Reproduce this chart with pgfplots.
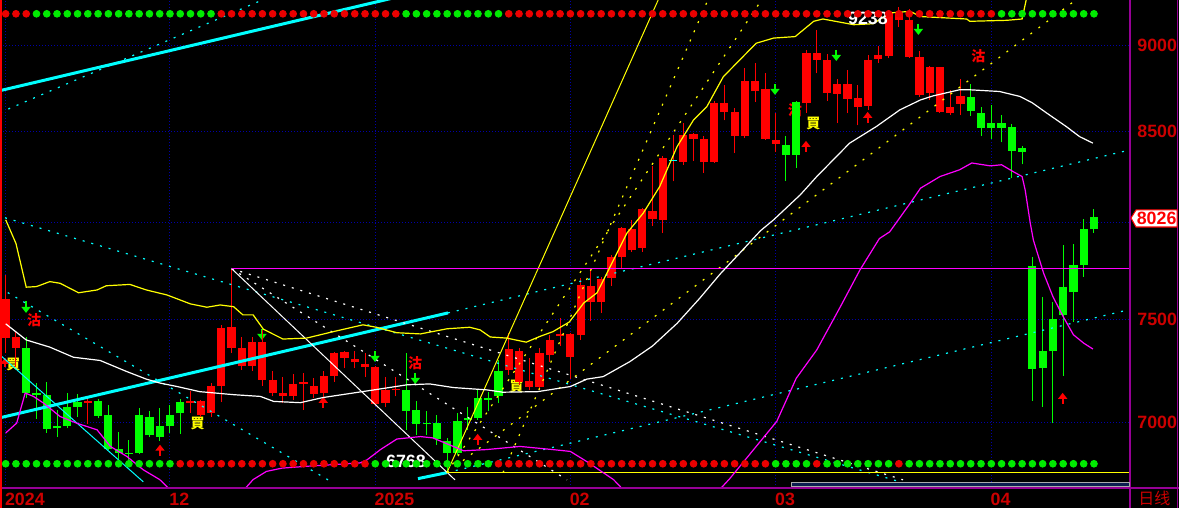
\documentclass[border=0pt]{standalone}
\usepackage{pgfplots}
\pgfplotsset{compat=1.18}
\usepackage{pgfplotstable}
\usepackage{fontspec}
\setmainfont{Liberation Sans}
\newfontfamily\cjktc{Noto Sans CJK TC}
\newfontfamily\cjksc{Noto Sans CJK SC}
\usetikzlibrary{arrows.meta}

\definecolor{kred}{RGB}{255,0,0}
\definecolor{kgreen}{RGB}{0,255,0}
\definecolor{kyellow}{RGB}{255,255,0}
\definecolor{kmag}{RGB}{255,0,255}
\definecolor{kcyan}{RGB}{0,255,255}
\definecolor{gridblue}{RGB}{0,0,170}
\definecolor{axmag}{RGB}{150,0,150}
\definecolor{lblred}{RGB}{204,0,0}
\colorlet{wickr}{kred}\colorlet{wickg}{kgreen}\colorlet{wickx}{kred}
\colorlet{bodyr}{kred}\colorlet{bodyg}{kgreen}\colorlet{bodyx}{kcyan}
\definecolor{dotr}{RGB}{235,0,0}
\definecolor{dotg}{RGB}{0,235,0}
\tikzset{
  garr/.style={kgreen, line width=1pt, -{Triangle[width=4.5pt,length=3pt]}},
  rarr/.style={kred, line width=1pt, -{Triangle[width=4.5pt,length=3pt]}},
}

\newcommand\lblfont{\fontsize{8.9}{9}\selectfont\bfseries}
\newcommand\cjkfont{\cjktc\fontsize{7}{7}\selectfont\bfseries}

% i = trading-day index; lo, body low, body high, hi; candle colour; top/bottom signal dot colours
\pgfplotstableread{
i lo bl bh hi c tc bc
0 7331 7407 7601 7724 r r g
1 7265 7358 7411 7437 r r g
2 7114 7140 7357 7409 g r g
3 7016 7131 7138 7188 g g g
4 6952 6970 7129 7191 g g g
5 6934 6971 6984 7059 g g g
6 6971 6985 7073 7138 g g g
7 7027 7074 7095 7133 g g g
8 6993 7093 7100 7109 r g g
9 7018 7030 7101 7109 g g g
10 6873 6876 7032 7079 g g g
11 6830 6859 6877 6956 g g g
12 6827 6851 6859 6917 g g g
13 6854 6856 7032 7068 g g g
14 6929 6939 7026 7054 g g g
15 6914 6934 6985 7067 g g g
16 6950 6985 7035 7081 g g g
17 6946 7041 7096 7109 g g r
18 7043 7092 7098 7149 r g r
19 7027 7034 7100 7106 r g r
20 7024 7043 7173 7186 r g r
21 7095 7173 7456 7469 r r r
22 7331 7358 7461 7757 r r r
23 7250 7270 7357 7409 r r r
24 7245 7270 7388 7413 r r r
25 7173 7201 7388 7446 r r r
26 7122 7141 7201 7242 r r r
27 7090 7126 7139 7217 r r r
28 7106 7122 7182 7230 r r r
29 7059 7181 7190 7234 r r r
30 7114 7134 7173 7209 r r r
31 7114 7138 7221 7246 r r r
32 7193 7221 7331 7336 r r r
33 7258 7309 7337 7341 r r r
34 7258 7285 7303 7342 r r r
35 7217 7263 7280 7331 r r r
36 7077 7087 7264 7269 r r g
37 7071 7090 7153 7217 r r g
38 7122 7150 7157 7217 r r g
39 6965 7055 7153 7331 g g g
40 6942 6993 7059 7098 g g g
41 6942 6993 6999 7055 g g g
42 6896 6922 6998 7035 g g g
43 6768 6857 6914 6927 g g g
44 6850 6857 7007 7043 g g g
45 6965 7012 7021 7071 g g g
46 7012 7020 7115 7157 g g g
47 7051 7107 7117 7145 g g g
48 7090 7122 7246 7298 g g r
49 7225 7250 7352 7429 r r r
50 7177 7190 7342 7355 r r r
51 7153 7169 7198 7309 r r r
52 7153 7169 7331 7355 r r r
53 7290 7323 7396 7421 r r r
54 7367 7414 7424 7504 r r r
55 7205 7314 7426 7429 r r r
56 7396 7421 7673 7707 r r r
57 7492 7583 7668 7754 r r r
58 7529 7583 7702 7715 r r r
59 7668 7710 7816 7828 r r r
60 7759 7819 7970 7977 r r r
61 7845 7854 7965 8013 r r r
62 7845 7866 8072 8076 r r r
63 7981 8018 8061 8307 r r r
64 7945 8013 8350 8363 r r r
65 8221 8333 8340 8481 x r r
66 8313 8331 8481 8551 r r r
67 8335 8459 8487 8490 r r r
68 8270 8329 8459 8475 r r r
69 8325 8331 8662 8677 r r r
70 8563 8610 8666 8768 r r r
71 8378 8477 8614 8634 r r r
72 8462 8475 8794 8867 r r r
73 8671 8730 8794 8900 r r r
74 8453 8457 8743 8836 r r r
75 8387 8432 8453 8605 r r g
76 8225 8368 8424 8475 g r g
77 8294 8368 8671 8675 g r g
78 8608 8666 8956 8976 r r g
79 8836 8916 8956 9097 r r r
80 8677 8724 8916 8952 r r g
81 8547 8716 8775 8804 r r g
82 8605 8687 8775 8857 r r g
83 8534 8643 8695 8769 r r g
84 8624 8647 8916 8946 r r g
85 8897 8922 8946 9000 r r g
86 8926 8940 9197 9207 r r g
87 9113 9157 9197 9238 r r r
88 8928 8932 9157 9225 r r g
89 8700 8710 8932 8970 r r g
90 8681 8724 8876 8882 r r g
91 8608 8614 8871 8876 r r g
92 8595 8608 8639 8736 r r g
93 8595 8658 8704 8801 r r g
94 8589 8618 8697 8775 g r g
95 8477 8522 8605 8639 g r g
96 8459 8517 8547 8652 g r g
97 8438 8522 8547 8595 g g g
98 8239 8392 8526 8543 g g g
99 8316 8387 8406 8419 g g g
100 7102 7256 7771 7816 g g g
101 7074 7261 7342 7612 g g g
102 6996 7339 7501 7588 g g g
103 7222 7522 7663 7880 g g g
104 7487 7639 7776 7886 g g g
105 7715 7778 7965 8017 g g g
106 7945 7962 8026 8072 g g g
}\candles

\begin{document}
\begin{tikzpicture}
\fill[black] (0,0) rectangle (589.5pt,-254pt);
\useasboundingbox (0,0) rectangle (589.5pt,-254pt);
\begin{axis}[
  at={(0,0)}, anchor=north west,
  scale only axis, width=565pt, height=244pt,
  xmin=-0.555, xmax=109.51,
  ymode=log, ymin=6700, ymax=9281,
  axis line style={draw=none},
  major tick length=0pt,
  xtick={0,16,36,55,75,96},
  xticklabels={2024,12,2025,02,03,04},
  ytick={7000,7500,8000,8500,9000},
  yticklabels={7000,7500,,8500,9000},
  yticklabel pos=right,
  xticklabel style={anchor=north west, inner sep=0pt, yshift=-2.5pt, xshift=-0.5pt, font=\lblfont, text=lblred},
  yticklabel style={anchor=west, inner sep=0pt, xshift=3.5pt, font=\lblfont, text=lblred},
  grid=major,
  major grid style={gridblue, line width=0.5pt, dash pattern=on 0.5pt off 1pt},
  cdot/.style={draw=kcyan, line width=0.6pt, dash pattern=on 1pt off 3.5pt, forget plot},
  wdot/.style={draw=white, line width=0.6pt, dash pattern=on 1pt off 3.5pt, forget plot},
  ydot/.style={draw=kyellow, line width=0.6pt, dash pattern=on 1pt off 4pt, forget plot},
]
% ---- signal labels
\node[text=kyellow, font=\cjkfont] at (axis cs:0.74,7274) {買};
\node[text=kyellow, font=\cjkfont] at (axis cs:18.7,6996) {買};
\node[text=kyellow, font=\cjkfont] at (axis cs:49.77,7169) {買};
\node[text=kyellow, font=\cjkfont] at (axis cs:78.66,8543) {買};
\node[text=kred, font=\cjkfont] at (axis cs:2.76,7496) {沽};
\node[text=kred, font=\cjkfont] at (axis cs:39.87,7282) {沽};
\node[text=kred, font=\cjkfont] at (axis cs:94.73,8936) {沽};
\node[text=kred, font=\cjkfont] at (axis cs:76.87,8624) {沽};
\draw[garr] (axis cs:1.98,7591) -- (axis cs:1.98,7531);
\draw[garr] (axis cs:24.96,7451) -- (axis cs:24.96,7396);
\draw[garr] (axis cs:35.97,7342) -- (axis cs:35.97,7288);
\draw[garr] (axis cs:39.9,7235) -- (axis cs:39.9,7182);
\draw[garr] (axis cs:74.93,8775) -- (axis cs:74.93,8710);
\draw[garr] (axis cs:80.9,8976) -- (axis cs:80.9,8910);
\draw[garr] (axis cs:88.9,9134) -- (axis cs:88.9,9066);
\draw[rarr] (axis cs:-0.07,7264) -- (axis cs:-0.07,7308);
\draw[rarr] (axis cs:15.03,6845) -- (axis cs:15.03,6896);
\draw[rarr] (axis cs:30.93,7068) -- (axis cs:30.93,7120);
\draw[rarr] (axis cs:45.97,6896) -- (axis cs:45.97,6946);
\draw[rarr] (axis cs:77.95,8385) -- (axis cs:77.95,8447);
\draw[rarr] (axis cs:83.96,8549) -- (axis cs:83.96,8612);
\draw[rarr] (axis cs:102.95,7087) -- (axis cs:102.95,7139);
% ---- candles
\pgfplotsforeachungrouped \r in {0,...,106}{%
  \pgfplotstablegetelem{\r}{i}\of\candles \let\cI\pgfplotsretval
  \pgfplotstablegetelem{\r}{lo}\of\candles \let\cLo\pgfplotsretval
  \pgfplotstablegetelem{\r}{bl}\of\candles \let\cBl\pgfplotsretval
  \pgfplotstablegetelem{\r}{bh}\of\candles \let\cBh\pgfplotsretval
  \pgfplotstablegetelem{\r}{hi}\of\candles \let\cHi\pgfplotsretval
  \pgfplotstablegetelem{\r}{c}\of\candles \let\cC\pgfplotsretval
  \edef\doit{%
    \noexpand\addplot[draw=wick\cC, line width=0.5pt, forget plot] coordinates {(\cI,\cLo) (\cI,\cHi)};
    \noexpand\addplot[draw=body\cC, line width=4.1pt, forget plot] coordinates {(\cI,\cBl) (\cI,\cBh)};
  }\doit
}
% ---- trend / fan lines
\addplot[kcyan, line width=1.5pt] coordinates {(-0.555,8735) (43.08,9373)};
\addplot[kcyan, line width=1.5pt] coordinates {(-0.555,7021) (43.08,7531)};
\addplot[kcyan, line width=1.5pt] coordinates {(40.16,6741) (42.98,6768)};
\addplot[kcyan, line width=0.5pt] coordinates {(-0.555,7322) (13.4,6727)};
\addplot[cdot] coordinates {(-0.555,8608) (28.66,9381)};
\addplot[cdot] coordinates {(-0.07,8024) (87.1,6727)};
\addplot[cdot] coordinates {(-0.555,7657) (31.4,6736)};
\addplot[cdot] coordinates {(43.08,7531) (109.5,8396)};
\addplot[cdot] coordinates {(42.98,6768) (109.5,7548)};
\addplot[white, line width=0.5pt] coordinates {(22.01,7757) (43.76,6736)};
\addplot[wdot] coordinates {(22.01,7757) (87.4,6736)};
\addplot[wdot] coordinates {(22.01,7757) (54.67,6736)};
\addplot[kyellow, line width=0.5pt] coordinates {(42.98,6768) (63.56,9281)};
\addplot[ydot] coordinates {(42.98,6768) (73.63,9281)};
\addplot[ydot] coordinates {(42.98,6768) (104.25,9281)};
\addplot[ydot] coordinates {(48.44,6768) (68.4,9281)};
\addplot[kmag, line width=0.6pt] coordinates {(22.01,7757) (109.6,7757)};
\addplot[kyellow, line width=0.6pt] coordinates {(42.98,6768) (109.6,6768)};
% ---- bands
\addplot[kyellow, line width=0.6pt] coordinates {(0,8013) (1,7889) (2,7661) (3,7664) (4.3,7690) (5.3,7682) (7.1,7633) (8.9,7647) (9.8,7668) (12.1,7676) (13.7,7647) (15.7,7622) (18,7576) (19.6,7559) (20.9,7571) (22.2,7562) (23.1,7521) (24.1,7521) (25.1,7449) (27,7400) (29.3,7405) (31.9,7437) (34.8,7471) (36.1,7459) (38.1,7432) (40.4,7426) (43,7452) (45.2,7459) (46.2,7446) (47.2,7410) (48.8,7405) (50.7,7385) (52,7413) (53.3,7437) (54.9,7485) (56.3,7580) (57.6,7633) (59.2,7802) (60.5,7942) (62.1,8049) (63.7,8193) (65.4,8415) (67,8566) (68.3,8643) (69.9,8817) (71.5,8916) (73.1,9016) (74.8,9047) (76.9,9056) (78.7,9149) (79.6,9163) (82.6,9128) (84.5,9134) (86.1,9200) (88.1,9210) (89.1,9178) (93.6,9163) (93.9,9149) (97.5,9155) (99,9163) (99.4,9281) (100,9500)};
\addplot[white, line width=0.6pt] coordinates {(0,7476) (2,7396) (4.3,7360) (6.6,7311) (9.2,7295) (11.8,7241) (13.7,7205) (15,7186) (16.7,7169) (18.9,7145) (22.2,7130) (24.8,7122) (26.1,7098) (28.7,7093) (30.9,7117) (35.5,7150) (39.1,7177) (41.3,7182) (43.6,7164) (46.9,7153) (48.4,7142) (51.8,7145) (55,7169) (56.6,7205) (58.2,7217) (60.8,7290) (63,7366) (65.4,7479) (67.6,7604) (69.6,7729) (71.5,7837) (73.5,7955) (74.8,8013) (77.4,8148) (79,8248) (82.2,8434) (84.8,8528) (87.1,8624) (89.1,8681) (90.3,8704) (92.9,8740) (93.9,8740) (96.8,8730) (98.8,8701) (100,8664) (101.4,8605) (103.3,8528) (104.6,8471) (105.9,8434)};
\addplot[kmag, line width=0.6pt] coordinates {(0,6950) (1.07,6996) (1.9,7138) (2.7,7122) (3.7,7090) (5.3,7027) (6.9,6996) (8.9,6965) (10.2,6888) (11.8,6842) (13.4,6781) (15,6737) (16.5,6670)};
\addplot[kmag, line width=0.6pt] coordinates {(22.8,6670) (24.1,6737) (25.4,6774) (26.9,6789) (29.3,6797) (34.5,6812) (35.2,6827) (36.5,6873) (38.1,6922) (40.4,6934) (41.6,6927) (43.6,6888) (44.6,6868) (46.8,6873) (50.1,6888) (53.3,6873) (55,6865) (56.6,6819) (59.2,6737) (60.6,6670)};
\addplot[kmag, line width=0.6pt] coordinates {(69.1,6670) (70.5,6740) (75.1,7004) (77,7209) (79,7347) (81.3,7562) (83.2,7750) (85.1,7914) (86.1,7949) (88.1,8102) (89.1,8184) (91,8248) (92.9,8285) (94.1,8323) (95.9,8307) (97,8313) (98.1,8276) (99,8248) (99.3,8174) (99.8,7995) (100.1,7906) (101.1,7733) (102,7613) (103,7512) (104,7421) (105,7380) (105.9,7351)};
% ---- value labels
\node[text=white, font=\lblfont] at (axis cs:83.99,9167) {9238};
\node[text=white, font=\lblfont] at (axis cs:38.99,6818) {6768};
% ---- signal dots
\pgfplotsforeachungrouped \r in {0,...,106}{%
  \pgfplotstablegetelem{\r}{i}\of\candles \let\cI\pgfplotsretval
  \pgfplotstablegetelem{\r}{tc}\of\candles \let\cT\pgfplotsretval
  \pgfplotstablegetelem{\r}{bc}\of\candles \let\cB\pgfplotsretval
  \edef\doit{%
    \noexpand\addplot[only marks, mark=*, mark size=1.7pt, color=dot\cT, forget plot] coordinates {(\cI,9195)};
    \noexpand\addplot[only marks, mark=*, mark size=1.7pt, color=dot\cB, forget plot] coordinates {(\cI,6809)};
  }\doit
}
\end{axis}
% frame
\draw[axmag, line width=0.8pt] (0,-244pt) -- (589.5pt,-244pt);
\draw[axmag, line width=0.8pt] (565pt,0) -- (565pt,-254pt);
\draw[axmag, line width=0.8pt] (588.8pt,0) -- (588.8pt,-254pt);
\draw[kred, line width=0.8pt] (0.4pt,0) -- (0.4pt,-254pt);
\draw[fill={rgb,255:red,10;green,30;blue,80}, draw={rgb,255:red,170;green,170;blue,170}, line width=0.5pt] (395.5pt,-241pt) rectangle (564.5pt,-243.4pt);
\filldraw[fill=white, draw=kred, line width=0.5pt] (565.5pt,-109pt) -- (568pt,-105pt) -- (588.5pt,-105pt) -- (588.5pt,-113.5pt) -- (568pt,-113.5pt) -- cycle;
\node[text=kred, font=\lblfont, inner sep=0pt] at (578.3pt,-109.3pt) {8026};
\node[anchor=north west, inner sep=0pt, text=lblred, font=\cjksc\fontsize{8}{8}\selectfont] at (569pt,-245.5pt) {日线};
\end{tikzpicture}
\end{document}
